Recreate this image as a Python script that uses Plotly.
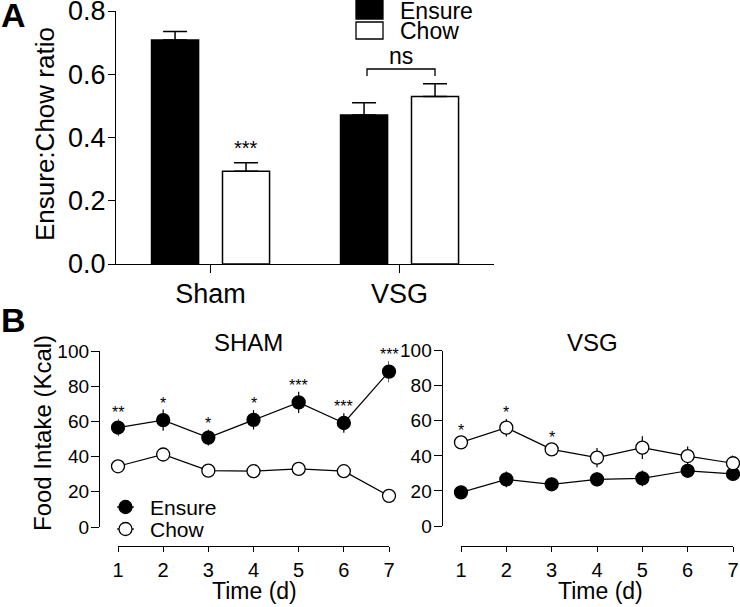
import plotly.graph_objects as go

# ---------------- data ----------------
categories = ["Sham", "VSG"]
ratio_ensure = [0.708, 0.471]
ratio_ensure_err = [0.027, 0.039]
ratio_chow = [0.293, 0.530]
ratio_chow_err = [0.027, 0.040]
ratio_sig = ["***", ""]

days = [1, 2, 3, 4, 5, 6, 7]
sham_ensure = [56.5, 60.7, 50.8, 60.9, 70.8, 59.1, 88.3]
sham_ensure_err = [5.0, 6.0, 4.5, 5.5, 6.0, 5.5, 6.0]
sham_chow = [34.5, 41.2, 32.0, 31.7, 33.0, 31.7, 17.7]
sham_chow_err = [2.0, 2.5, 2.0, 2.0, 4.0, 2.0, 2.0]
sham_sig = ["**", "*", "*", "*", "***", "***", "***"]

vsg_ensure = [19.2, 26.6, 23.8, 26.6, 27.2, 31.5, 29.7]
vsg_ensure_err = [3.5, 4.5, 2.5, 4.0, 4.5, 2.5, 3.5]
vsg_chow = [47.7, 56.1, 43.7, 39.0, 44.7, 39.9, 35.8]
vsg_chow_err = [3.0, 5.0, 3.0, 5.5, 6.5, 5.5, 4.5]
vsg_sig = ["*", "*", "*", "", "", "", ""]

W, H = 740, 607
FONT = "Liberation Sans, Arial, Helvetica, sans-serif"


def px(x):
    return x / W


def py(y):
    return 1 - y / H


fig = go.Figure()

# ---------------- panel A: bars ----------------
fig.add_trace(go.Bar(
    x=categories, y=ratio_ensure, name="Ensure",
    marker=dict(color="black", line=dict(color="black", width=1.5)),
    width=0.249, offset=-0.312,
    error_y=dict(type="data", array=ratio_ensure_err, arrayminus=[0, 0],
                 symmetric=False, color="black", thickness=1.5, width=12),
    xaxis="x", yaxis="y", showlegend=False,
))
fig.add_trace(go.Bar(
    x=categories, y=ratio_chow, name="Chow",
    marker=dict(color="white", line=dict(color="black", width=1.5)),
    width=0.249, offset=0.0635,
    error_y=dict(type="data", array=ratio_chow_err, arrayminus=[0, 0],
                 symmetric=False, color="black", thickness=1.5, width=12),
    xaxis="x", yaxis="y", showlegend=False,
))

# significance stars in A
for i, s in enumerate(ratio_sig):
    if s:
        fig.add_annotation(x=i + 0.188, y=ratio_chow[i] + ratio_chow_err[i],
                           xref="x", yref="y", text=s, showarrow=False,
                           yanchor="bottom", yshift=2,
                           font=dict(family=FONT, size=20, color="black"))


# ---------------- panel B: lines ----------------
def add_series(xa, ya, yvals, errs, filled):
    fig.add_trace(go.Scatter(
        x=days, y=yvals, mode="lines+markers",
        line=dict(color="black", width=1.2),
        marker=dict(size=13, symbol="circle",
                    color="black" if filled else "white",
                    line=dict(color="black", width=1.3)),
        error_y=dict(type="data", array=errs, color="black", thickness=1.2, width=0),
        xaxis=xa, yaxis=ya, showlegend=False, cliponaxis=False,
    ))


add_series("x2", "y2", sham_chow, sham_chow_err, False)
add_series("x2", "y2", sham_ensure, sham_ensure_err, True)
add_series("x3", "y3", vsg_ensure, vsg_ensure_err, True)
add_series("x3", "y3", vsg_chow, vsg_chow_err, False)

for i, s in enumerate(sham_sig):
    if s:
        fig.add_annotation(x=days[i], y=sham_ensure[i] + sham_ensure_err[i],
                           xref="x2", yref="y2", text=s, showarrow=False,
                           yanchor="bottom", yshift=-4,
                           font=dict(family=FONT, size=16, color="black"))
for i, s in enumerate(vsg_sig):
    if s:
        fig.add_annotation(x=days[i], y=vsg_chow[i] + vsg_chow_err[i],
                           xref="x3", yref="y3", text=s, showarrow=False,
                           yanchor="bottom", yshift=-4,
                           font=dict(family=FONT, size=16, color="black"))

axis_common = dict(showline=True, linecolor="black", linewidth=1.3,
                   ticks="outside", tickcolor="black", tickwidth=1.3,
                   showgrid=False, zeroline=False, fixedrange=True,
                   automargin=False, ticklabeloverflow="allow")

fig.update_layout(
    template="none",
    width=W, height=H,
    margin=dict(l=0, r=0, t=0, b=0, pad=0),
    paper_bgcolor="white", plot_bgcolor="white",
    font=dict(family=FONT, color="black"),
    showlegend=False,
    xaxis=dict(domain=[px(116), px(494)], anchor="y", type="category",
               range=[-0.5, 1.5], ticklen=8, ticklabelstandoff=-3,
               tickfont=dict(size=27), **axis_common),
    yaxis=dict(domain=[py(264), py(11)], anchor="x", range=[0, 0.8],
               dtick=0.2, tickformat=".1f", ticklen=7, ticklabelstandoff=-3,
               tickfont=dict(size=27), **axis_common),
    xaxis2=dict(domain=[px(118), px(389)], anchor="free", position=py(546),
                range=[1, 7], dtick=1, ticklen=5, ticklabelstandoff=1,
                tickfont=dict(size=20), **axis_common),
    yaxis2=dict(domain=[py(527), py(351)], anchor="free", position=px(99),
                range=[0, 100], dtick=20, ticklen=8, ticklabelstandoff=-2,
                tickfont=dict(size=19), **axis_common),
    xaxis3=dict(domain=[px(461), px(733)], anchor="free", position=py(546),
                range=[1, 7], dtick=1, ticklen=5, ticklabelstandoff=1,
                tickfont=dict(size=20), **axis_common),
    yaxis3=dict(domain=[py(526), py(350.7)], anchor="free", position=px(441.7),
                range=[0, 100], dtick=20, ticklen=8, ticklabelstandoff=-2,
                tickfont=dict(size=19), **axis_common),
)


def label(x, y, text, size, bold=False, angle=0, xanchor="center"):
    fig.add_annotation(x=px(x), y=py(y), xref="paper", yref="paper",
                       text=f"<b>{text}</b>" if bold else text,
                       showarrow=False, xanchor=xanchor, yanchor="middle",
                       textangle=angle,
                       font=dict(family=FONT, size=size, color="black"))


# panel letters and titles
label(13, 15, "A", 34, bold=True)
label(13, 320, "B", 34, bold=True)
label(45, 134, "Ensure:Chow ratio", 26, angle=-90)
label(42, 433, "Food Intake (Kcal)", 24, angle=-90)
label(248, 342, "SHAM", 24)
label(592, 342, "VSG", 24)
label(254, 591, "Time (d)", 23)
label(600, 591, "Time (d)", 23)

# ns bracket
fig.add_shape(type="path", xref="paper", yref="paper",
              path=f"M {px(367)},{py(76)} L {px(367)},{py(69)} L {px(435)},{py(69)} L {px(435)},{py(76)}",
              line=dict(color="black", width=1.3))
label(401, 56, "ns", 23)

# legend panel A
fig.add_shape(type="rect", xref="paper", yref="paper",
              x0=px(356), x1=px(383), y0=py(19), y1=py(0),
              fillcolor="black", line=dict(color="black", width=1.3))
fig.add_shape(type="rect", xref="paper", yref="paper",
              x0=px(356), x1=px(383), y0=py(39), y1=py(22),
              fillcolor="white", line=dict(color="black", width=1.3))
label(398, 11, "Ensure", 23, xanchor="left")
label(398, 31, "Chow", 23, xanchor="left")

# legend panel B
for yy, fill, name in [(507, "black", "Ensure"), (529, "white", "Chow")]:
    fig.add_shape(type="line", xref="paper", yref="paper",
                  x0=px(117), x1=px(134), y0=py(yy), y1=py(yy),
                  line=dict(color="black", width=1.2))
    fig.add_shape(type="circle", xref="paper", yref="paper",
                  xsizemode="pixel", ysizemode="pixel",
                  xanchor=px(125.5), yanchor=py(yy),
                  x0=-6.5, x1=6.5, y0=-6.5, y1=6.5,
                  fillcolor=fill, line=dict(color="black", width=1.3))
    label(148, yy, name, 21, xanchor="left")

fig.write_html("out.html", config={"displayModeBar": False},
               post_script="document.body.style.margin='0px';document.body.style.overflow='hidden';")
